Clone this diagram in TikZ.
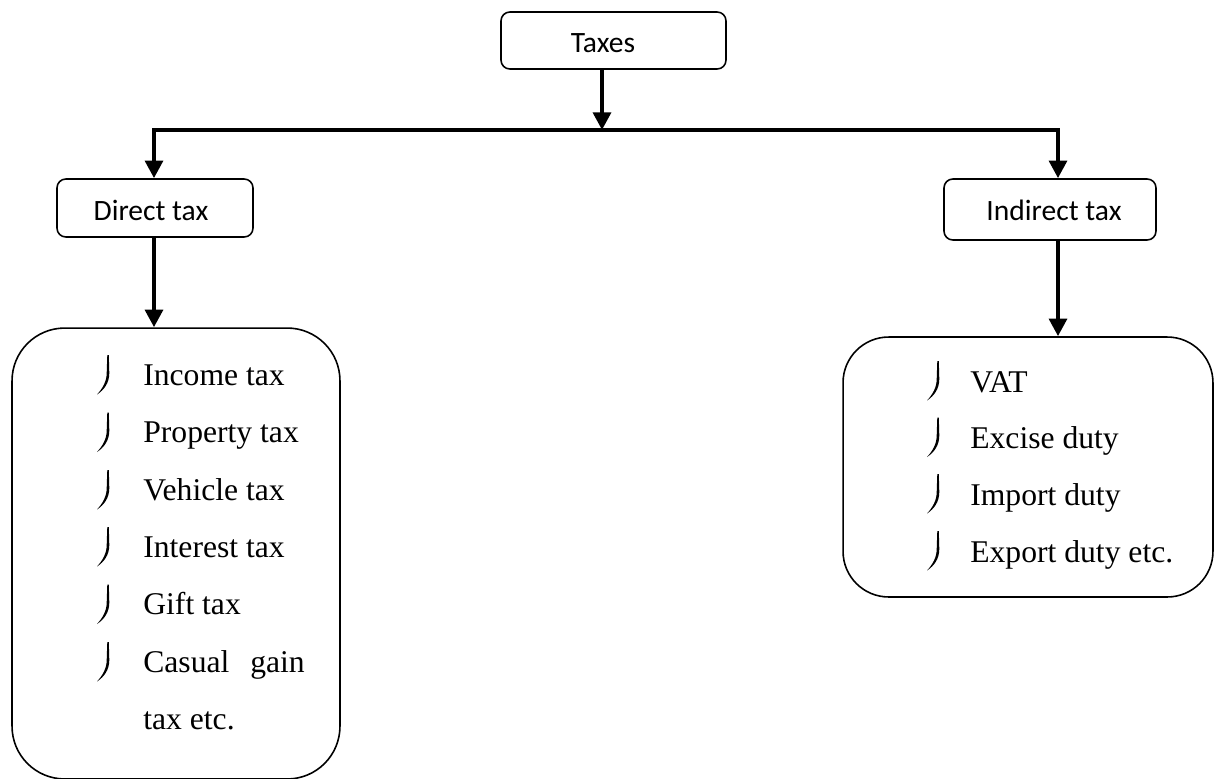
\documentclass[tikz,border=0pt]{standalone}
\usepackage{fontspec}
\setmainfont{Liberation Serif}
\newfontfamily\boxfont{Carlito}
\usetikzlibrary{arrows.meta}
\tikzset{
  smallbox/.style={draw, line width=0.9pt, rounded corners=5pt, inner sep=0pt},
  listbox/.style={draw, line width=0.9pt, rounded corners=30pt, inner sep=0pt},
  boxlabel/.style={font=\boxfont\fontsize{16.8}{19}\selectfont, inner sep=0pt},
  itemtext/.style={font=\fontsize{18}{22}\selectfont, inner sep=0pt, anchor=base west},
  flow/.style={line width=2.4pt, line join=miter,
    -{Triangle[width=10pt, length=10pt]}},
}
\begin{document}
\begin{tikzpicture}[x=0.02cm, y=-0.02cm]
\useasboundingbox (0,0) rectangle (1217,778);
% Top level: the tax box splits into its two kinds.
\node[smallbox, minimum width=4.5cm, minimum height=1.14cm] (taxes) at (613.5,40.5) {};
\node[boxlabel, anchor=base] (taxeslabel) at (603,52) {Taxes};
\node[smallbox, minimum width=3.92cm, minimum height=1.16cm] (direct) at (155,208) {};
\node[boxlabel, anchor=base] (directlabel) at (151,220) {Direct tax};
\node[smallbox, minimum width=4.24cm, minimum height=1.22cm] (indirect) at (1050,209.5) {};
\node[boxlabel, anchor=base] (indirectlabel) at (1054,220) {Indirect tax};
\coordinate (split) at (602,130);
\coordinate (leftend) at (154,130);
\coordinate (rightend) at (1058,130);
\draw[flow] (taxes.south -| split) -- (split);
\draw[flow, {Triangle[width=10pt, length=10pt]}-{Triangle[width=10pt, length=10pt]}]
  (leftend |- direct.north) -- (leftend) -- (rightend) -- (rightend |- indirect.north);

% Lists of examples under each kind.
\node[listbox, minimum width=6.56cm, minimum height=9.02cm] (directlist) at (176,553.5) {};
\node[listbox, rounded corners=26pt, minimum width=7.4cm, minimum height=5.2cm] (indirectlist) at (1028,467) {};
\draw[flow] (direct.south -| leftend) -- (leftend |- directlist.north);
\draw[flow] (indirect.south -| rightend) -- (rightend |- indirectlist.north);

\node[itemtext] (income) at (143,385) {Income tax};
\node[itemtext] (property) at (143,442.5) {Property tax};
\node[itemtext] (vehicle) at (143,500) {Vehicle tax};
\node[itemtext] (interest) at (143,557) {Interest tax};
\node[itemtext] (gift) at (143,614.5) {Gift tax};
\node[itemtext] (casual) at (143,672) {Casual\hspace{0.66em}gain};
\node[itemtext] (casualrest) at (143,729) {tax etc.};
\node[itemtext] (vat) at (970,392) {VAT};
\node[itemtext] (excise) at (970,448.5) {Excise duty};
\node[itemtext] (import) at (970,505) {Import duty};
\node[itemtext] (export) at (970,562) {Export duty etc.};

% hook-shaped bullets in front of the items
\foreach \bx/\by in {108/375, 108/432.5, 108/490, 108/547, 108/604.5, 108/662,
                     938/381, 938/437.5, 938/494, 938/551}
  \fill[shift={(\bx,\by)}] (0.8,-20) -- (1.3,-2) .. controls (1.3,8) and (-4,15) .. (-11,19.5)
    .. controls (-5,13) and (-1.3,6) .. (-1.3,-2) -- (-0.7,-20) -- cycle;
\end{tikzpicture}
\end{document}
